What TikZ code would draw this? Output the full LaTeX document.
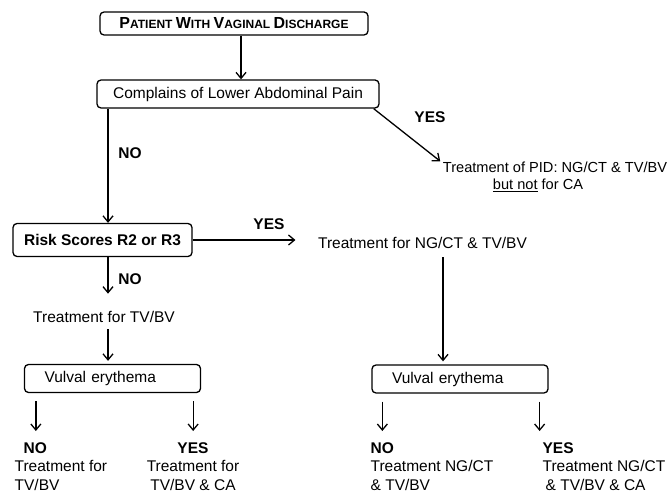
\documentclass[tikz,border=0pt]{standalone}
\usepackage{fontspec}
\setmainfont{Liberation Sans}
\usetikzlibrary{arrows.meta}
\newcommand{\scw}[2]{{\fontsize{16}{18}\selectfont#1}{\fontsize{12}{14}\selectfont#2}}

\begin{document}
\begin{tikzpicture}[x=1pt,y=-1pt,line width=1.3pt,
  every node/.style={font=\fontsize{15.5}{18.5}\selectfont,inner sep=0pt},
  lab/.style={font=\bfseries\fontsize{15.5}{18.5}\selectfont},
  box/.style={draw,rounded corners=4pt},
  vbox/.style={box,minimum height=28pt,text width=136pt,align=left,inner xsep=20pt},
  arr/.style={-{Straight Barb[length=6pt,width=10pt]}},
  drop/.style={arr,shorten <=8pt,shorten >=11pt}]
\useasboundingbox (0,0) rectangle (672,494);
\coordinate (lx) at (108,0);
\coordinate (rx) at (443,0);
\node[box,minimum width=268pt,minimum height=23pt,font=\bfseries\fontsize{12}{14}\selectfont] (pat) at (234,23.5)
  {\scw{P}{ATIENT} \scw{W}{ITH} \scw{V}{AGINAL} \scw{D}{ISCHARGE}};
\node[box,minimum width=282pt,minimum height=28pt] (cmp) at (238,94) {Complains of Lower Abdominal Pain};
\node[box,lab,minimum width=179pt,minimum height=33pt] (risk) at (102.5,240) {Risk Scores R2 or R3};
\node[align=center,font=\fontsize{14.6}{17.5}\selectfont] (pid) at (555,177) {Treatment of PID: NG/CT \& TV/BV\\\underline{but not} for CA\hspace*{34pt}};
\node (ngct) at (422.5,243) {Treatment for NG/CT \& TV/BV};
\node (tvbv) at (104,317) {Treatment for TV/BV};
\node[vbox] (vl) at (112.5,378.5) {Vulval erythema};
\node[vbox] (vr) at (460,379) {Vulval erythema};
\node[align=left,anchor=north west] (lno) at (14,442) {\hspace*{9pt}\textbf{NO}\\Treatment for\\TV/BV};
\node[align=center,anchor=north] (lyes) at (193,442) {\textbf{YES}\\Treatment for\\TV/BV \& CA};
\node[align=left,anchor=north west] (rno) at (370,442) {\textbf{NO}\\Treatment NG/CT\\\& TV/BV};
\node[align=left,anchor=north west] (ryes) at (542,442) {\textbf{YES}\\Treatment NG/CT\\\hspace*{3pt}\& TV/BV \& CA};
% branch labels
\node[lab] (yes1) at (430,117) {YES};
\node[lab] (no1) at (130,153) {NO};
\node[lab] (yes2) at (269,224) {YES};
\node[lab] (no2) at (130,279) {NO};
% connectors
\draw[arr] ([xshift=3pt]cmp.north |- pat.south) -- ([xshift=3pt]cmp.north);
\draw[arr] (cmp.south -| lx) -- (risk.north -| lx);
\draw[arr] ([xshift=-6pt]cmp.south east) -- ([xshift=-2pt]pid.north west);
\draw[arr] (risk.east) -- ([xshift=-22pt]risk.east -| ngct.west);
\draw[arr] (risk.south -| lx) -- ([yshift=17pt]tvbv.north -| lx);
\draw[arr,shorten <=6pt,shorten >=3pt] (tvbv.south -| lx) -- (vl.north -| lx);
\draw[arr,shorten <=8pt,shorten >=3pt] (ngct.south -| rx) -- (vr.north -| rx);
\draw[drop] ([xshift=12pt]vl.south west) -- ([xshift=12pt]vl.south west |- lno.north);
\draw[drop] ([xshift=-8pt]vl.south east) -- ([xshift=-8pt]vl.south east |- lyes.north);
\draw[drop] ([xshift=11pt]vr.south west) -- ([xshift=11pt]vr.south west |- rno.north);
\draw[drop] ([xshift=-9pt]vr.south east) -- ([xshift=-9pt]vr.south east |- ryes.north);
\end{tikzpicture}
\end{document}
